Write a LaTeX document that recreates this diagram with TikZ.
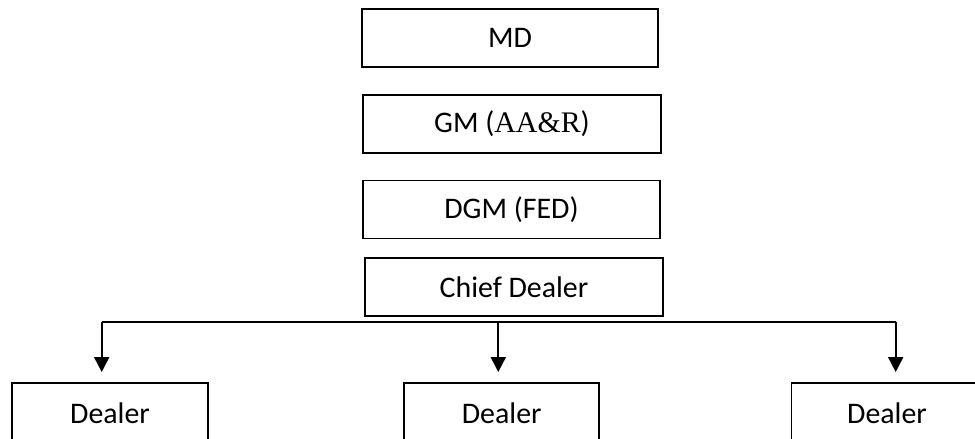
\documentclass[tikz,border=0pt]{standalone}
\usepackage{fontspec}
\setmainfont{Carlito}
\newfontfamily\serifface{Liberation Serif}
\usetikzlibrary{arrows.meta,positioning}
\definecolor{ink}{RGB}{0,0,0}
\tikzset{
  >={Triangle[width=3mm,length=3mm]},
  post/.style={draw=ink,line width=1.1pt,minimum width=#1*0.02cm,minimum height=1.16cm,
    inner sep=0pt,font=\fontsize{17}{20}\selectfont},
  post/.default=297,
  feed/.style={draw=ink,line width=1.1pt},
}
\begin{document}
\begin{tikzpicture}[x=0.02cm,y=-0.02cm]
  \useasboundingbox (0,0) rectangle (975,439);
  \clip (0,0) rectangle (975,439);
  % top of the chain
  \node[post=296] (md) at (510,38) {MD};
  \node[post=298] (gm) at (512,124) {GM ({\serifface AA\&R})};
  \node[post=297] (dgm) at (511.5,209.5) {DGM (FED)};
  \node[post=298] (chief) at (514,287) {Chief Dealer};
  % dealers
  \node[post=196,minimum height=1.2cm] (dealerA) at (110,413) {Dealer};
  \node[post=195,minimum height=1.2cm] (dealerB) at (501.7,413) {Dealer};
  \node[post=191,minimum height=1.2cm] (dealerC) at (887,413) {Dealer};
  % bus line
  \coordinate (busA) at (101.7,321.7);
  \coordinate (busB) at (498.3,321.7);
  \coordinate (busC) at (895.7,321.7);
  \draw[feed] (busA) -- (busC);
  \foreach \b/\d in {busA/dealerA,busB/dealerB,busC/dealerC}
    \draw[feed,->,shorten >=0.2cm] (\b) -- (\b |- \d.north);
\end{tikzpicture}
\end{document}
